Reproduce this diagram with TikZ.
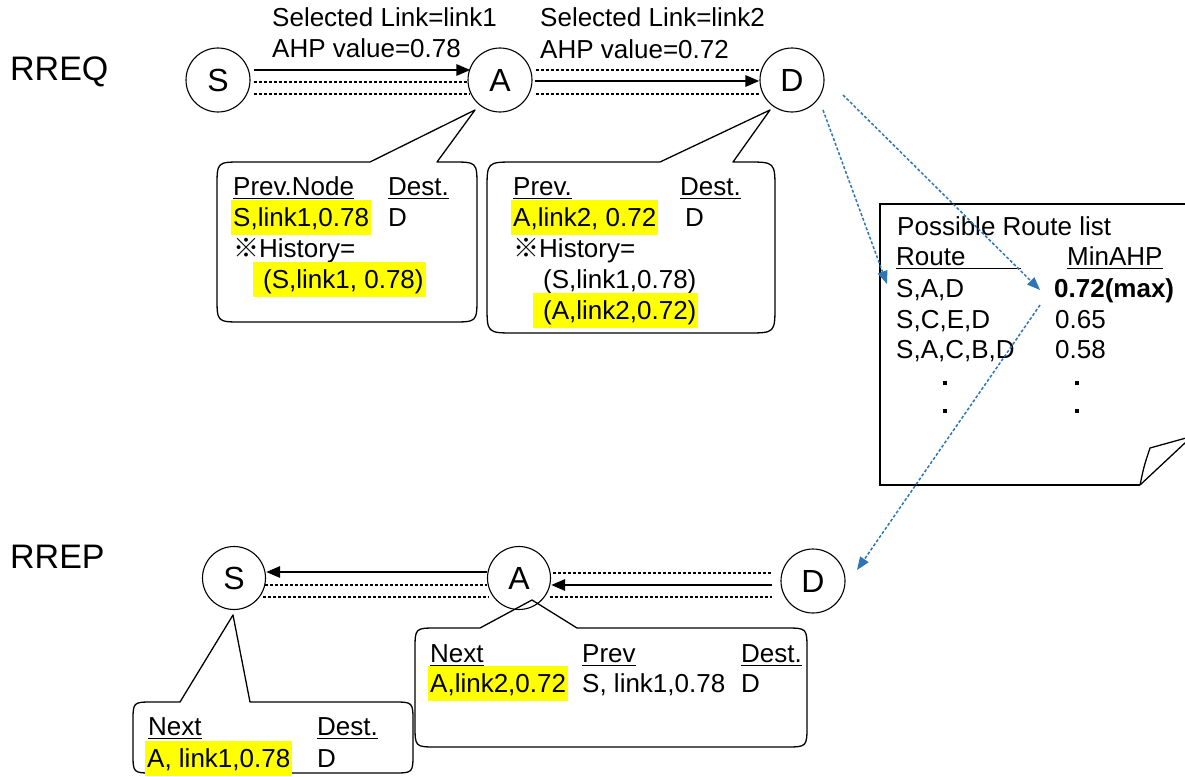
\documentclass[tikz,border=0pt]{standalone}
\usepackage{fontspec}
\setmainfont{Liberation Sans}
\newfontfamily\cjkfont{Noto Sans CJK JP}
\usetikzlibrary{arrows.meta,calc}
\definecolor{lnkblue}{RGB}{46,117,182}
\definecolor{hlyellow}{RGB}{255,255,0}
\newcommand\fsz{\fontsize{26}{30}\selectfont}
\newcommand\myul[1]{\setbox0\hbox{#1}\rlap{\rule[-4pt]{\wd0}{1.5pt}}\box0}
\begin{document}
\begin{tikzpicture}[x=1pt,y=-1pt,
  txt/.style={anchor=base west, inner sep=0pt, font=\fsz},
  hl/.style={txt, fill=hlyellow, inner xsep=2pt, inner ysep=2.5pt, text height=24pt, text depth=6pt},
  bigtxt/.style={anchor=base west, inner sep=0pt, font=\fontsize{34}{40}\selectfont},
  circ/.style={draw, circle, minimum size=64pt, inner sep=0pt, line width=1.1pt, font=\fontsize{32}{36}\selectfont},
  dashl/.style={dash pattern=on 3pt off 2pt, line width=1.2pt},
  solidarr/.style={line width=2.8pt, -{Triangle[length=14pt,width=11pt]}},
  bluearr/.style={draw=lnkblue, dash pattern=on 3pt off 2pt, line width=1.5pt, -{Triangle[length=13pt,width=10pt]}},
  bubble/.style={draw, line width=1.3pt, line join=round}]
\useasboundingbox (0,0) rectangle (1185,776);

% ---------- labels ----------
\node[bigtxt] (rreq) at (10,80) {RREQ};
\node[bigtxt] (rrep) at (10,568) {RREP};

% ---------- RREQ row ----------
\node[circ] (S1) at (218,80) {S};
\node[circ] (A1) at (500,80) {A};
\node[circ] (D1) at (792,80) {D};

\draw[solidarr] ($(S1.east)+(3,-10)$) -- ($(A1.west)+(3,-10)$);
\draw[dashl] ($(S1.east)+(3,2)$) -- ($(A1.west)+(1,2)$);
\draw[dashl] ($(S1.east)+(3,14)$) -- ($(A1.west)+(2,14)$);

\draw[dashl] ($(A1.east)+(3,-10)$) -- ($(D1.west)+(0,-10)$);
\draw[solidarr] ($(A1.east)+(2,1)$) -- ($(D1.west)+(0,1)$);
\draw[dashl] ($(A1.east)+(3,14)$) -- ($(D1.west)+(0,14)$);

\node[txt] (l1a) at (272,27) {Selected Link=link1};
\node[txt] (l1b) at (272,58) {AHP value=0.78};
\node[txt] (l2a) at (540,27) {Selected Link=link2};
\node[txt] (l2b) at (540,59) {AHP value=0.72};

% ---------- bubble at A (RREQ) ----------
\draw[bubble] (370,162) -- (475,110) -- (437,162) -- (452,162)
  .. controls (477,162) .. (477,187) -- (477,297)
  .. controls (477,322) .. (452,322) -- (242,322)
  .. controls (217,322) .. (217,297) -- (217,187)
  .. controls (217,162) .. (242,162) -- cycle;
\node[txt] (b1a) at (233,195) {\myul{Prev.Node}};
\node[txt] (b1b) at (388,195) {\myul{Dest.}};
\node[hl]  (b1c) at (231,226) {S,link1,0.78\hspace{6pt}};
\node[txt] (b1d) at (388,226) {D};
\node[txt] (b1e) at (233,257) {{\cjkfont ※}History=};
\node[hl]  (b1f) at (253,288) {\hspace{8pt}(S,link1, 0.78)\hspace{2pt}};

% ---------- bubble at D (RREQ) ----------
\draw[bubble] (660,162) -- (770,110) -- (733,162) -- (747,162)
  .. controls (775,162) .. (775,190) -- (775,305)
  .. controls (775,333) .. (747,333) -- (515,333)
  .. controls (487,333) .. (487,305) -- (487,190)
  .. controls (487,162) .. (515,162) -- cycle;
\node[txt] (b2a) at (513,195) {\myul{Prev.}};
\node[txt] (b2b) at (680,195) {\myul{Dest.}};
\node[hl]  (b2c) at (511,226) {A,link2, 0.72};
\node[txt] (b2d) at (685,226) {D};
\node[txt] (b2e) at (513,257) {{\cjkfont ※}History=};
\node[txt] (b2f) at (543,288) {(S,link1,0.78)};
\node[hl]  (b2g) at (533,319) {\hspace{8pt}(A,link2,0.72)\hspace{9pt}};

% ---------- possible route list ----------
\draw[line width=1.5pt] (1186,204) -- (880,204) -- (880,485) -- (1140,485);
\draw[line width=1.3pt, line join=round] (1140,485) .. controls (1144,466) .. (1150,448) -- (1186,438);
\draw[line width=1.3pt] (1140,485) -- (1186,442);
\node[txt] (rt) at (897,235) {Possible Route list};
\node[txt] (rh1) at (896,265) {\myul{Route\hspace{55pt}}};
\node[txt] (rh2) at (1067,265) {\myul{MinAHP}};
\node[txt] (r1a) at (896,297) {S,A,D};
\node[txt] (r1b) at (1054,297) {\bfseries 0.72(max)};
\node[txt] (r2a) at (896,328) {S,C,E,D};
\node[txt] (r2b) at (1055,328) {0.65};
\node[txt] (r3a) at (896,358) {S,A,C,B,D};
\node[txt] (r3b) at (1055,358) {0.58};
\fill (943,381) rectangle (947,385);
\fill (943,409) rectangle (947,413);
\fill (1075,381) rectangle (1079,385);
\fill (1075,409) rectangle (1079,413);

% ---------- RREP row ----------
\node[circ, minimum size=63pt] (S2) at (234,578) {S};
\node[circ, minimum size=63pt] (A2) at (519,578) {A};
\node[circ] (D2) at (813,581) {D};

\draw[solidarr] ($(A2.west)+(0,-6)$) -- ($(S2.east)+(0,-6)$);
\draw[dashl] ($(S2.east)+(-1,7)$) -- ($(A2.west)+(0,7)$);
\draw[dashl] ($(S2.east)+(-3,19)$) -- ($(A2.west)+(2,19)$);

\draw[dashl] ($(A2.east)+(2,-5)$) -- ($(D2.west)+(-8,-8)$);
\draw[solidarr] ($(D2.west)+(-8,4)$) -- ($(A2.east)+(0,7)$);
\draw[dashl] ($(A2.east)+(-1,19)$) -- ($(D2.west)+(-8,16)$);

% ---------- bubble at A (RREP) ----------
\draw[bubble] (480,628) -- (532,600) -- (577,628) -- (785,628)
  .. controls (807,628) .. (807,650) -- (807,725)
  .. controls (807,747) .. (785,747) -- (437,747)
  .. controls (415,747) .. (415,725) -- (415,650)
  .. controls (415,628) .. (437,628) -- cycle;
\node[txt] (b3a) at (430,662) {\myul{Next}};
\node[txt] (b3b) at (582,662) {\myul{Prev}};
\node[txt] (b3c) at (741,662) {\myul{Dest.}};
\node[hl]  (b3d) at (428,692) {A,link2,0.72\hspace{6pt}};
\node[txt] (b3e) at (582,692) {S, link1,0.78};
\node[txt] (b3f) at (741,692) {D};

% ---------- bubble at S (RREP) ----------
\draw[bubble] (180,702) -- (233,615) -- (250,702) -- (393,702)
  .. controls (413,702) .. (413,722) -- (413,753)
  .. controls (413,773) .. (393,773) -- (153,773)
  .. controls (133,773) .. (133,753) -- (133,722)
  .. controls (133,702) .. (153,702) -- cycle;
\node[txt] (b4a) at (148,735) {\myul{Next}};
\node[txt] (b4b) at (317,735) {\myul{Dest.}};
\node[hl]  (b4c) at (145,767) {A, link1,0.78};
\node[txt] (b4d) at (317,767) {D};

% ---------- blue dashed arrows ----------
\coordinate (bs1) at (823,110);
\coordinate (be1) at (887,284);
\coordinate (bs2) at (843,95);
\coordinate (be2) at (1040,290);
\coordinate (bs3) at (1040,305);
\coordinate (be3) at (857,570);
\draw[bluearr] (bs1) -- (be1);
\draw[bluearr] (bs2) -- (be2);
\draw[bluearr] (bs3) -- (be3);
\end{tikzpicture}
\end{document}
